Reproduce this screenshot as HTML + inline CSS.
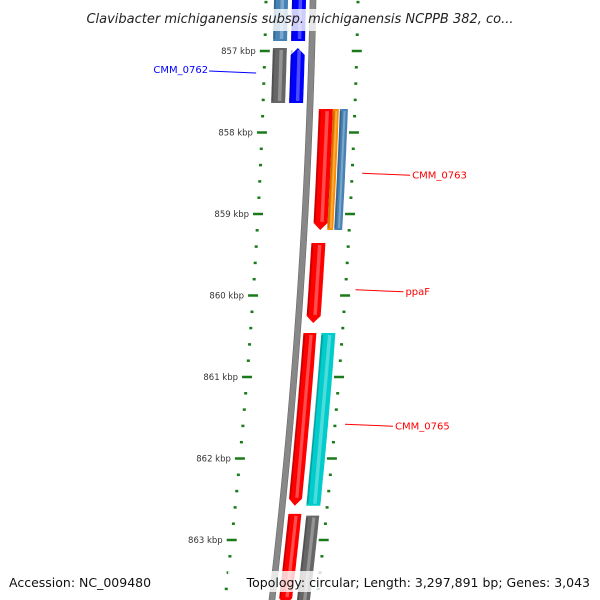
<!DOCTYPE html>
<html><head><meta charset="utf-8"><style>
html,body{margin:0;padding:0;background:#fff;}
svg{display:block;font-family:"DejaVu Sans","Liberation Sans",sans-serif;}
</style></head><body>
<svg id="map" width="600" height="600" viewBox="0 0 600 600" xmlns="http://www.w3.org/2000/svg">
<defs>
<linearGradient id="bb" x1="0" x2="1"><stop offset="0" stop-color="#555"/><stop offset="0.5" stop-color="#aaa"/><stop offset="1" stop-color="#666"/></linearGradient>
</defs>
<g id="ticks"></g>
<g id="backbone"></g>
<g id="genes"></g>
<g id="labels"></g>
<rect x="75" y="9" width="430" height="22" fill="#fff" fill-opacity="0.8"/>
<text x="300" y="23" text-anchor="middle" font-size="13" font-style="italic" fill="#222">Clavibacter michiganensis subsp. michiganensis NCPPB 382, co...</text>
<rect x="228" y="571" width="368" height="21" fill="#fff" fill-opacity="0.8"/>
<text x="9" y="587" font-size="12.5" fill="#111">Accession: NC_009480</text>
<text x="590" y="587" text-anchor="end" font-size="12.5" fill="#111">Topology: circular; Length: 3,297,891 bp; Genes: 3,043</text>
</svg>
<script>
// data (kbp)
const majorTicks=[857,858,859,860,861,862,863];
const geneNames=["g1","g2","CMM_0762","g4","CMM_0763","g6","g7","ppaF","g9","CMM_0765","g11","g12"];
const geneStart=[856.30,856.30,856.963,856.963,857.712,857.712,857.712,859.356,860.46,860.46,862.68,862.70];
const geneEnd=[856.877,856.877,857.638,857.638,859.196,859.196,859.196,860.337,862.58,862.58,863.80,863.80];
const geneStrand=[0,0,0,-1,1,0,0,1,1,0,1,0];
const geneInner=[-39,-21,-39,-21,9,23,30,8,6,24,7,25];
const geneOuter=[-25,-7,-25,-7,23,29,38,22,19,38,20,38];
const geneColor=["#4682b4","#0000ff","#666666","#0000ff","#ff0000","#ff8c00","#4682b4","#ff0000","#ff0000","#00cccc","#ff0000","#666666"];
const labelText=["CMM_0762","CMM_0763","ppaF","CMM_0765"];
const labelKbp=[857.27,858.5,859.93,861.58];
const labelColor=["#0000ff","#ff0000","#ff0000","#ff0000"];
const labelSide=[-1,1,1,1];

const NS="http://www.w3.org/2000/svg";
function Y(k){return 51+(k-857)*81.5;}
function BX(y){return 313-0.0198*y-0.000081*y*y;}
function el(t,a,p){const e=document.createElementNS(NS,t);for(const k in a)e.setAttribute(k,a[k]);p.appendChild(e);return e;}

// backbone
const bb=document.getElementById('backbone');
let pts=[];for(let y=-5;y<=605;y+=5)pts.push((BX(y)-3)+","+y);
for(let y=605;y>=-5;y-=5)pts.push((BX(y)+3)+","+y);
const bbp=el('polygon',{points:pts.join(" "),fill:"#888",stroke:"#666","stroke-width":"0.6"},bb);



// ticks
const tg=document.getElementById('ticks');
for(let k=856.2;k<=864;k+=0.2){
  const kk=Math.round(k*10)/10;const y=Y(kk);const bx=BX(y);
  const major=Math.abs(kk-Math.round(kk))<0.01;
  for(const side of [-47,45]){
    const len=major?5:1.5;
    const t=el('line',{x1:bx+side-len,y1:y,x2:bx+side+len,y2:y,stroke:"#1a7a1a","stroke-width":"2.5"},tg);
    
    
  }
}
majorTicks.forEach(k=>{
  const y=Y(k);const bx=BX(y);
  const t=el('text',{x:bx-56,y:y+3,"text-anchor":"end","font-size":"8.5",fill:"#333"},tg);
  t.textContent=k+" kbp";
  
  
});

// genes
const gg=document.getElementById('genes');
function geneShape(i){
  const y1=Y(geneStart[i]),y2=Y(geneEnd[i]),a=geneInner[i],b=geneOuter[i],s=geneStrand[i];
  const L=[],R=[];
  const top=s<0?y1+7:y1,bot=s>0?y2-7:y2;
  for(let y=top;y<=bot;y+=4){L.push([BX(y)+a,y]);R.push([BX(y)+b,y]);}
  L.push([BX(bot)+a,bot]);R.push([BX(bot)+b,bot]);
  let p=[];
  if(s<0)p.push([BX(y1)+(a+b)/2,y1]);
  p=p.concat(R);
  if(s>0)p.push([BX(y2)+(a+b)/2,y2]);
  p=p.concat(L.reverse());
  return p.map(q=>q[0].toFixed(1)+","+q[1].toFixed(1)).join(" ");
}
geneNames.forEach((n,i)=>{
  const g=el('g',{},gg);
  
  
  el('polygon',{points:geneShape(i),fill:geneColor[i]},g);
  // highlight stripe
  const y1=Y(geneStart[i])+2,y2=Y(geneEnd[i])-(geneStrand[i]>0?8:2);
  const w=geneOuter[i]-geneInner[i];
  const hx=geneInner[i]+w*0.6;
  el('line',{x1:BX(y1)+hx,y1:y1,x2:BX(y2)+hx,y2:y2,stroke:"#fff","stroke-opacity":"0.3","stroke-width":Math.max(1,w*0.25)},g);
  el('line',{x1:BX(y1)+geneInner[i]+1,y1:y1,x2:BX(y2)+geneInner[i]+1,y2:y2,stroke:"#000","stroke-opacity":"0.2","stroke-width":"2"},g);
});

// labels
const lg=document.getElementById('labels');
labelText.forEach((t,i)=>{
  const y=Y(labelKbp[i]);const bx=BX(y);
  const side=labelSide[i];
  const x1=side<0?bx-55:bx+55, x2=side<0?x1-47:x1+48;
  const l=el('line',{x1:x1,y1:y,x2:x2,y2:y+(side<0?-2:2),stroke:labelColor[i],"stroke-width":"1"},lg);
  
  
  const tx=el('text',{x:side<0?x2-1:x2+2,y:y+(side<0?0:5),"text-anchor":side<0?"end":"start","font-size":"10",fill:labelColor[i]},lg);
  tx.textContent=t;
  
  
});
</script>
</body></html>
